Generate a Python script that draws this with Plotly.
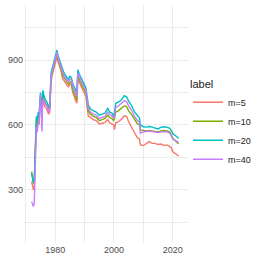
import plotly.graph_objects as go

years = [1972.0, 1972.3, 1972.6, 1972.9, 1973.2, 1973.4, 1973.6, 1973.9, 1974.2, 1974.5,
         1974.8, 1975.0, 1975.2, 1975.5, 1975.8, 1976.1, 1976.5, 1977.0, 1977.4, 1977.8,
         1978.2, 1978.6, 1979.0, 1979.4, 1979.8, 1980.2, 1980.6, 1981.0, 1981.5, 1982.0,
         1982.5, 1983.0, 1983.5, 1984.0, 1984.5, 1985.0, 1985.5, 1986.0, 1986.5, 1987.0,
         1987.4, 1987.7, 1988.2, 1988.8, 1989.4, 1990.0, 1990.5, 1990.9, 1991.3, 1992.0,
         1993.0, 1994.0, 1995.0, 1996.0, 1997.0, 1997.9, 1998.5, 1999.3, 1999.9, 2000.2,
         2000.6, 2001.5, 2002.5, 2003.5, 2004.3, 2005.0, 2006.0, 2007.0, 2008.0, 2008.7,
         2009.0, 2010.0, 2011.0, 2012.0, 2013.0, 2014.0, 2015.0, 2016.0, 2017.0, 2018.0,
         2019.0, 2019.5, 2020.0, 2021.0, 2022.0]

m20 = [377, 360, 335, 345, 500, 610, 640, 620, 660, 640,
       700, 750, 720, 690, 760, 740, 720, 710, 700, 680,
       700, 840, 860, 880, 900, 920, 946, 920, 900, 880,
       850, 840, 830, 820, 810, 825, 820, 790, 770, 760,
       750, 855, 835, 820, 800, 785, 770, 720, 690, 675,
       665, 660, 645, 650, 655, 678, 660, 655, 640, 660,
       700, 705, 715, 735, 730, 710, 690, 660, 640, 632,
       600, 592, 590, 593, 590, 585, 582, 590, 592, 590,
       585, 575, 560, 550, 538]

m10 = [385, 365, 330, 340, 480, 590, 625, 605, 645, 625,
       680, 730, 700, 670, 745, 725, 705, 695, 685, 665,
       685, 820, 845, 865, 885, 905, 930, 905, 885, 862,
       830, 818, 808, 798, 788, 800, 795, 762, 742, 730,
       715, 825, 810, 795, 775, 760, 745, 695, 665, 650,
       640, 635, 620, 625, 630, 645, 635, 630, 620, 630,
       660, 665, 675, 688, 685, 665, 648, 625, 605, 600,
       577, 575, 573, 575, 573, 570, 568, 572, 575, 572,
       568, 555, 540, 525, 512]

m40 = [246, 230, 223, 240, 420, 560, 590, 565, 610, 600,
       660, 740, 690, 570, 720, 710, 700, 690, 680, 660,
       680, 825, 850, 870, 890, 910, 935, 910, 890, 870,
       840, 828, 818, 808, 798, 812, 808, 778, 756, 745,
       730, 840, 825, 808, 790, 775, 758, 708, 678, 660,
       650, 645, 630, 635, 640, 660, 648, 642, 630, 645,
       680, 688, 698, 712, 708, 688, 668, 640, 620, 612,
       562, 568, 570, 572, 570, 567, 565, 568, 570, 568,
       562, 550, 535, 528, 520]

m5 = [339, 320, 300, 315, 450, 570, 600, 580, 620, 605,
      660, 720, 690, 650, 715, 700, 685, 675, 665, 650,
      665, 800, 830, 850, 870, 890, 915, 890, 870, 850,
      815, 805, 795, 785, 775, 790, 785, 750, 725, 712,
      700, 815, 798, 780, 760, 745, 730, 680, 640, 635,
      625, 620, 605, 608, 612, 625, 610, 605, 600, 578,
      610, 615, 625, 642, 640, 615, 590, 560, 540, 535,
      508, 505, 515, 523, 515, 515, 510, 512, 505, 508,
      500, 495, 477, 465, 457]

labels = ["m=5", "m=10", "m=20", "m=40"]
series = [m5, m10, m20, m40]
colors = ["#F8766D", "#7CAE00", "#00BFC4", "#C77CFF"]

y_ticks = [300, 600, 900]
x_ticks = [1980, 2000, 2020]

fig = go.Figure()
for name, vals, col in zip(labels, series, colors):
    fig.add_trace(go.Scatter(x=years, y=vals, mode="lines", name=name,
                             line=dict(color=col, width=1.4)))

grid = "#EBEBEB"
fig.update_layout(
    width=263, height=263,
    margin=dict(l=24, r=75, t=5, b=20),
    paper_bgcolor="white", plot_bgcolor="white",
    font=dict(family="Liberation Sans, Arial, sans-serif", color="#4D4D4D", size=9),
    xaxis=dict(range=[1969.4, 2025.2], tickvals=x_ticks, ticktext=[str(v) for v in x_ticks],
               showgrid=True, gridcolor=grid, gridwidth=1, zeroline=False, showline=False,
               ticks="", tickfont=dict(size=9, color="#4D4D4D"),
               minor=dict(tickvals=[1970, 1990, 2010], showgrid=True, gridcolor=grid, gridwidth=0.5)),
    yaxis=dict(range=[55, 1154], tickvals=y_ticks, ticktext=[str(v) for v in y_ticks],
               showgrid=True, gridcolor=grid, gridwidth=1, zeroline=False, showline=False,
               ticks="", tickfont=dict(size=9, color="#4D4D4D"),
               minor=dict(tickvals=[150, 450, 750, 1050], showgrid=True, gridcolor=grid, gridwidth=0.5)),
    legend=dict(title=dict(text="label", font=dict(size=11, color="#1a1a1a")),
                x=1.0, xanchor="left", y=0.5, yanchor="middle",
                font=dict(size=9, color="#1a1a1a"), bgcolor="rgba(0,0,0,0)",
                tracegroupgap=0, itemwidth=30),
    showlegend=True,
)

fig.write_html("out.html", config={"displayModeBar": False},
               post_script="document.body.style.margin='0';")
